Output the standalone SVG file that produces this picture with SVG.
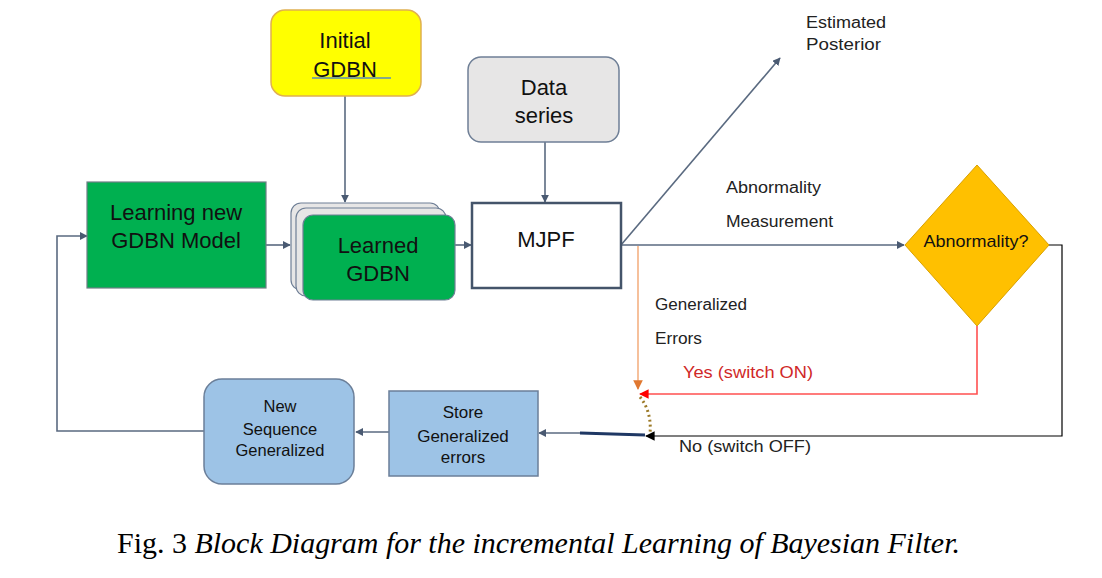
<svg xmlns="http://www.w3.org/2000/svg" width="1102" height="578" viewBox="0 0 1102 578">
<defs>
<marker id="ah" viewBox="0 0 10 10" refX="9" refY="5" markerWidth="5" markerHeight="5" orient="auto-start-reverse" markerUnits="strokeWidth"><path d="M0,0 L10,5 L0,10 z" fill="#4A5A72"/></marker>
<marker id="ahk" viewBox="0 0 10 10" refX="9" refY="5" markerWidth="8" markerHeight="8" orient="auto" markerUnits="strokeWidth"><path d="M0,0 L10,5 L0,10 z" fill="#000"/></marker>
<marker id="aho" viewBox="0 0 10 10" refX="9" refY="5" markerWidth="6" markerHeight="6" orient="auto" markerUnits="strokeWidth"><path d="M0,0 L10,5 L0,10 z" fill="#E07830"/></marker>
<marker id="ahr" viewBox="0 0 10 10" refX="9" refY="5" markerWidth="6" markerHeight="6" orient="auto" markerUnits="strokeWidth"><path d="M0,0 L10,5 L0,10 z" fill="#FF0000"/></marker>
</defs>
<style>
.t{font-family:"Liberation Sans",Arial,sans-serif;fill:#111;text-anchor:middle}
.l{font-family:"Liberation Sans",Arial,sans-serif;fill:#222}
.c{fill:none;stroke:#5A6A80;stroke-width:1.6}
.cap{font-family:"Liberation Serif","Times New Roman",serif;font-size:30px;fill:#000}
</style>
<rect width="1102" height="578" fill="#fff"/>

<g id="connectors">
<line class="c" x1="345" y1="96" x2="345" y2="202" marker-end="url(#ah)"/>
<line class="c" x1="545" y1="142" x2="545" y2="202" marker-end="url(#ah)"/>
<line class="c" x1="266" y1="245" x2="290" y2="245" marker-end="url(#ah)"/>
<line class="c" x1="455" y1="245" x2="471" y2="245" marker-end="url(#ah)"/>
<line class="c" x1="621" y1="245" x2="904" y2="245" marker-end="url(#ah)"/>
<line class="c" x1="621" y1="245" x2="780" y2="58" marker-end="url(#ah)"/>
<line x1="638" y1="246" x2="638" y2="389" stroke="#F4B183" stroke-width="1.6" marker-end="url(#aho)"/>
<polyline points="977,326 977,394 640,394" fill="none" stroke="#FF5050" stroke-width="1.6" marker-end="url(#ahr)"/>
<polyline points="1049,245 1062,245 1062,436 646,436" fill="none" stroke="#000" stroke-width="1.2" marker-end="url(#ahk)"/>
<path d="M640,397 Q652,412 650,434" fill="none" stroke="#9C7A28" stroke-width="3" stroke-dasharray="2,3"/>
<line x1="580" y1="433" x2="645" y2="435" stroke="#1F3864" stroke-width="3"/>
<line class="c" x1="580" y1="433" x2="539" y2="433" marker-end="url(#ah)"/>
<line class="c" x1="389" y1="432" x2="356" y2="432" marker-end="url(#ah)"/>
<polyline class="c" points="204,431 57,431 57,236 87,236" marker-end="url(#ah)"/>
</g>

<g id="initial">
<rect x="271" y="10" width="150" height="86" rx="14" fill="#FFFF00" stroke="#E0B050" stroke-width="1.5"/>
<text class="t" x="345" y="48" font-size="22">Initial</text>
<text class="t" x="345" y="77" font-size="22">GDBN</text>
<line x1="312" y1="78" x2="391" y2="78" stroke="#5B8DB8" stroke-width="1.5"/>
</g>

<g id="data">
<rect x="468" y="57" width="151" height="85" rx="13" fill="#E7E6E6" stroke="#6F7F96" stroke-width="1.5"/>
<text class="t" x="544" y="95" font-size="22">Data</text>
<text class="t" x="544" y="123" font-size="22">series</text>
</g>

<g id="learning">
<rect x="87" y="182" width="179" height="106" fill="#00B050" stroke="#6F7F86" stroke-width="1.2"/>
<text class="t" x="176" y="220" font-size="22">Learning new</text>
<text class="t" x="176" y="248" font-size="22">GDBN Model</text>
</g>

<g id="learned">
<rect x="291" y="203" width="149" height="87" rx="10" fill="#E7E6E6" stroke="#6F7F96" stroke-width="1.2"/>
<rect x="296" y="208" width="150" height="88" rx="10" fill="#E7E6E6" stroke="#6F7F96" stroke-width="1.2"/>
<rect x="303" y="215" width="152" height="85" rx="10" fill="#00B050" stroke="#6F7F96" stroke-width="1.2"/>
<text class="t" x="378" y="253" font-size="22">Learned</text>
<text class="t" x="378" y="281" font-size="22">GDBN</text>
</g>

<g id="mjpf">
<rect x="472" y="203" width="149" height="85" fill="#fff" stroke="#44546A" stroke-width="2.5"/>
<text class="t" x="546" y="247" font-size="22">MJPF</text>
</g>

<g id="abnormality">
<polygon points="977,165 1049,245 977,326 905,245" fill="#FFC000" stroke="#D9A000" stroke-width="1"/>
<text class="t" x="976" y="247" font-size="17" textLength="105" lengthAdjust="spacingAndGlyphs">Abnormality?</text>
</g>

<g id="store">
<rect x="389" y="391" width="149" height="85" fill="#9DC3E6" stroke="#6B7F99" stroke-width="1.5"/>
<text class="t" x="463" y="418" font-size="17">Store</text>
<text class="t" x="463" y="442" font-size="17">Generalized</text>
<text class="t" x="463" y="463" font-size="17">errors</text>
</g>

<g id="newseq">
<rect x="204" y="379" width="150" height="105" rx="18" fill="#9DC3E6" stroke="#6B7F99" stroke-width="1.5"/>
<text class="t" x="280" y="412" font-size="16.5">New</text>
<text class="t" x="280" y="435" font-size="16.5">Sequence</text>
<text class="t" x="280" y="456" font-size="16.5">Generalized</text>
</g>

<g id="labels">
<text class="l" x="806" y="28" font-size="16" textLength="80" lengthAdjust="spacingAndGlyphs">Estimated</text>
<text class="l" x="806" y="50" font-size="16" textLength="75" lengthAdjust="spacingAndGlyphs">Posterior</text>
<text class="l" x="726" y="193" font-size="16" textLength="95" lengthAdjust="spacingAndGlyphs">Abnormality</text>
<text class="l" x="726" y="227" font-size="16" textLength="107" lengthAdjust="spacingAndGlyphs">Measurement</text>
<text class="l" x="655" y="310" font-size="16" textLength="92" lengthAdjust="spacingAndGlyphs">Generalized</text>
<text class="l" x="655" y="344" font-size="16" textLength="47" lengthAdjust="spacingAndGlyphs">Errors</text>
<text class="l" x="683" y="378" font-size="16" style="fill:#D02828" textLength="130" lengthAdjust="spacingAndGlyphs">Yes (switch ON)</text>
<text class="l" x="679" y="452" font-size="16" textLength="132" lengthAdjust="spacingAndGlyphs">No (switch OFF)</text>
</g>

<text class="cap" x="117" y="553" textLength="843" lengthAdjust="spacingAndGlyphs">Fig. 3 <tspan font-style="italic">Block Diagram for the incremental Learning of Bayesian Filter.</tspan></text>
</svg>
